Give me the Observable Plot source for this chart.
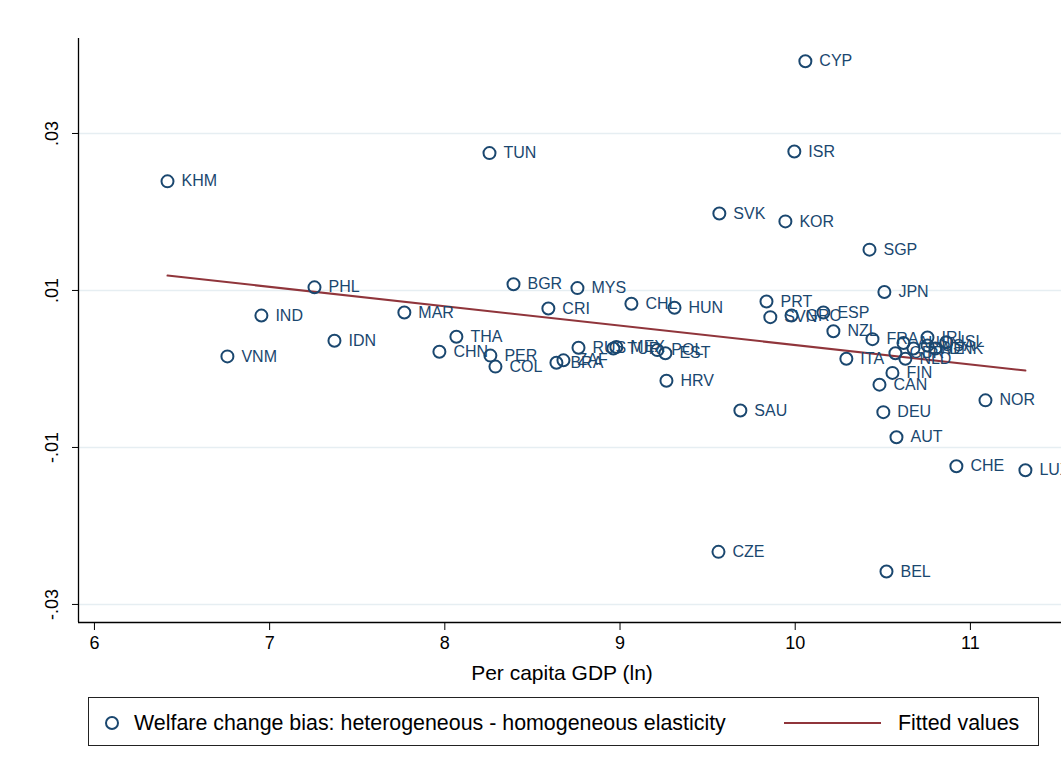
<!DOCTYPE html>
<html>
<head>
<meta charset="utf-8">
<script src="https://cdn.jsdelivr.net/npm/d3@7"></script>
<script src="https://cdn.jsdelivr.net/npm/@observablehq/plot@0.6"></script>
<style>
  body { margin: 0; background: #fff; font-family: "Liberation Sans", Arial, sans-serif; }
  #wrap { position: relative; width: 1061px; height: 769px; }
  #legend { position: absolute; left: 88px; top: 697px; width: 951px; height: 49px; border: 1px solid #222; box-sizing: border-box; }
</style>
</head>
<body>
<div id="wrap">
  <div id="chart"></div>
  <div id="legend"></div>
</div>
<script>
const countries = ["CYP","TUN","ISR","KHM","SVK","KOR","SGP","PHL","BGR","MYS","JPN","CHL","HUN","CRI","PRT","IND","MAR","SVN","GRC","ESP","NZL","THA","IDN","CHN","PER","COL","VNM","BRA","ZAF","RUS","MEX","TUR","POL","EST","HRV","SAU","CZE","FRA","AUS","GBR","NLD","SWE","USA","IRL","DNK","ISL","ITA","FIN","CAN","NOR","DEU","AUT","CHE","LUX","BEL"];
const lnGdp = [10.058,8.255,9.995,6.417,9.567,9.944,10.424,7.256,8.392,8.757,10.509,9.065,9.311,8.591,9.836,6.953,7.769,9.858,9.979,10.161,10.218,8.066,7.370,7.969,8.260,8.289,6.759,8.637,8.677,8.763,8.979,8.962,9.213,9.259,9.265,9.687,9.562,10.441,10.618,10.572,10.629,10.675,10.755,10.755,10.800,10.863,10.292,10.555,10.481,11.086,10.503,10.578,10.920,11.314,10.521];
const bias = [0.0392,0.0275,0.0277,0.0239,0.0198,0.0188,0.0152,0.0104,0.0108,0.0103,0.0098,0.0083,0.0078,0.0077,0.0086,0.0068,0.0072,0.0066,0.0068,0.0072,0.0048,0.0041,0.0036,0.0022,0.0017,0.0003,0.0016,0.0008,0.0011,0.0027,0.0028,0.0026,0.0024,0.0020,-0.0015,-0.0053,-0.0233,0.0038,0.0033,0.0020,0.0013,0.0026,0.0030,0.0040,0.0026,0.0034,0.0013,-0.0005,-0.0020,-0.0040,-0.0055,-0.0087,-0.0124,-0.0129,-0.0258];
const fitX = [6.417, 11.314];
const fitY = [0.0119, -0.0002];
const xTicks = [6, 7, 8, 9, 10, 11];
const yTicks = [-0.03, -0.01, 0.01, 0.03];
const yTickLabels = ["-.03", "-.01", ".01", ".03"];
const seriesLabel = "Welfare change bias: heterogeneous - homogeneous elasticity";
const fitLabel = "Fitted values";
const xTitle = "Per capita GDP (ln)";

const pts = countries.map((c, i) => ({c, x: lnGdp[i], y: bias[i]}));
const fit = fitX.map((x, i) => ({x, y: fitY[i]}));
const yLab = yTicks.map((v, i) => ({v, t: yTickLabels[i]}));

const navy = "#1a476f", maroon = "#90353b";
const xDom = [5.909, 11.52], yDom = [-0.0323, 0.0421];

const chart = Plot.plot({
  width: 1061, height: 690,
  marginLeft: 78, marginRight: 0, marginTop: 38, marginBottom: 68,
  style: {fontFamily: "'Liberation Sans', Arial, sans-serif", background: "transparent", color: "#000"},
  x: {domain: xDom},
  y: {domain: yDom},
  marks: [
    Plot.ruleY(yTicks, {stroke: "#e6eef2", strokeWidth: 1.5}),
    Plot.axisY({ticks: yTicks, tickSize: 6, tickFormat: () => "", label: null, stroke: "#000"}),
    Plot.text(yLab, {y: "v", text: "t", frameAnchor: "left", dx: -26, rotate: -90, textAnchor: "middle", lineAnchor: "middle", fontSize: 18, fill: "#000"}),
    Plot.axisX({ticks: xTicks, tickSize: 8, tickPadding: 6, fontSize: 18, tickFormat: d3.format("d"), label: null, stroke: "#000"}),
    Plot.text([xTitle], {frameAnchor: "bottom", dx: -8, dy: 51, lineAnchor: "middle", fontSize: 21, fill: "#000"}),
    Plot.ruleX([xDom[0]], {stroke: "#000", strokeWidth: 1.3}),
    Plot.ruleY([yDom[0]], {stroke: "#000", strokeWidth: 1.3}),
    Plot.line(fit, {x: "x", y: "y", stroke: maroon, strokeWidth: 2}),
    Plot.dot(pts, {x: "x", y: "y", r: 6, stroke: navy, strokeWidth: 2, fill: "none"}),
    Plot.text(pts, {x: "x", y: "y", text: "c", dx: 14, textAnchor: "start", fill: navy, fontSize: 16})
  ]
});
document.getElementById("chart").appendChild(chart);

const lg = document.getElementById("legend");
lg.innerHTML = `<svg width="951" height="49" style="position:absolute;left:0;top:0;font-family:'Liberation Sans',Arial,sans-serif">
  <circle cx="23" cy="25" r="6" fill="none" stroke="${navy}" stroke-width="2"></circle>
  <text x="45" y="25" dy="0.35em" font-size="21.4" fill="#000">${seriesLabel}</text>
  <line x1="695" x2="792" y1="25" y2="25" stroke="${maroon}" stroke-width="2"></line>
  <text x="809" y="25" dy="0.35em" font-size="21.4" fill="#000">${fitLabel}</text>
</svg>`;
</script>
</body>
</html>
